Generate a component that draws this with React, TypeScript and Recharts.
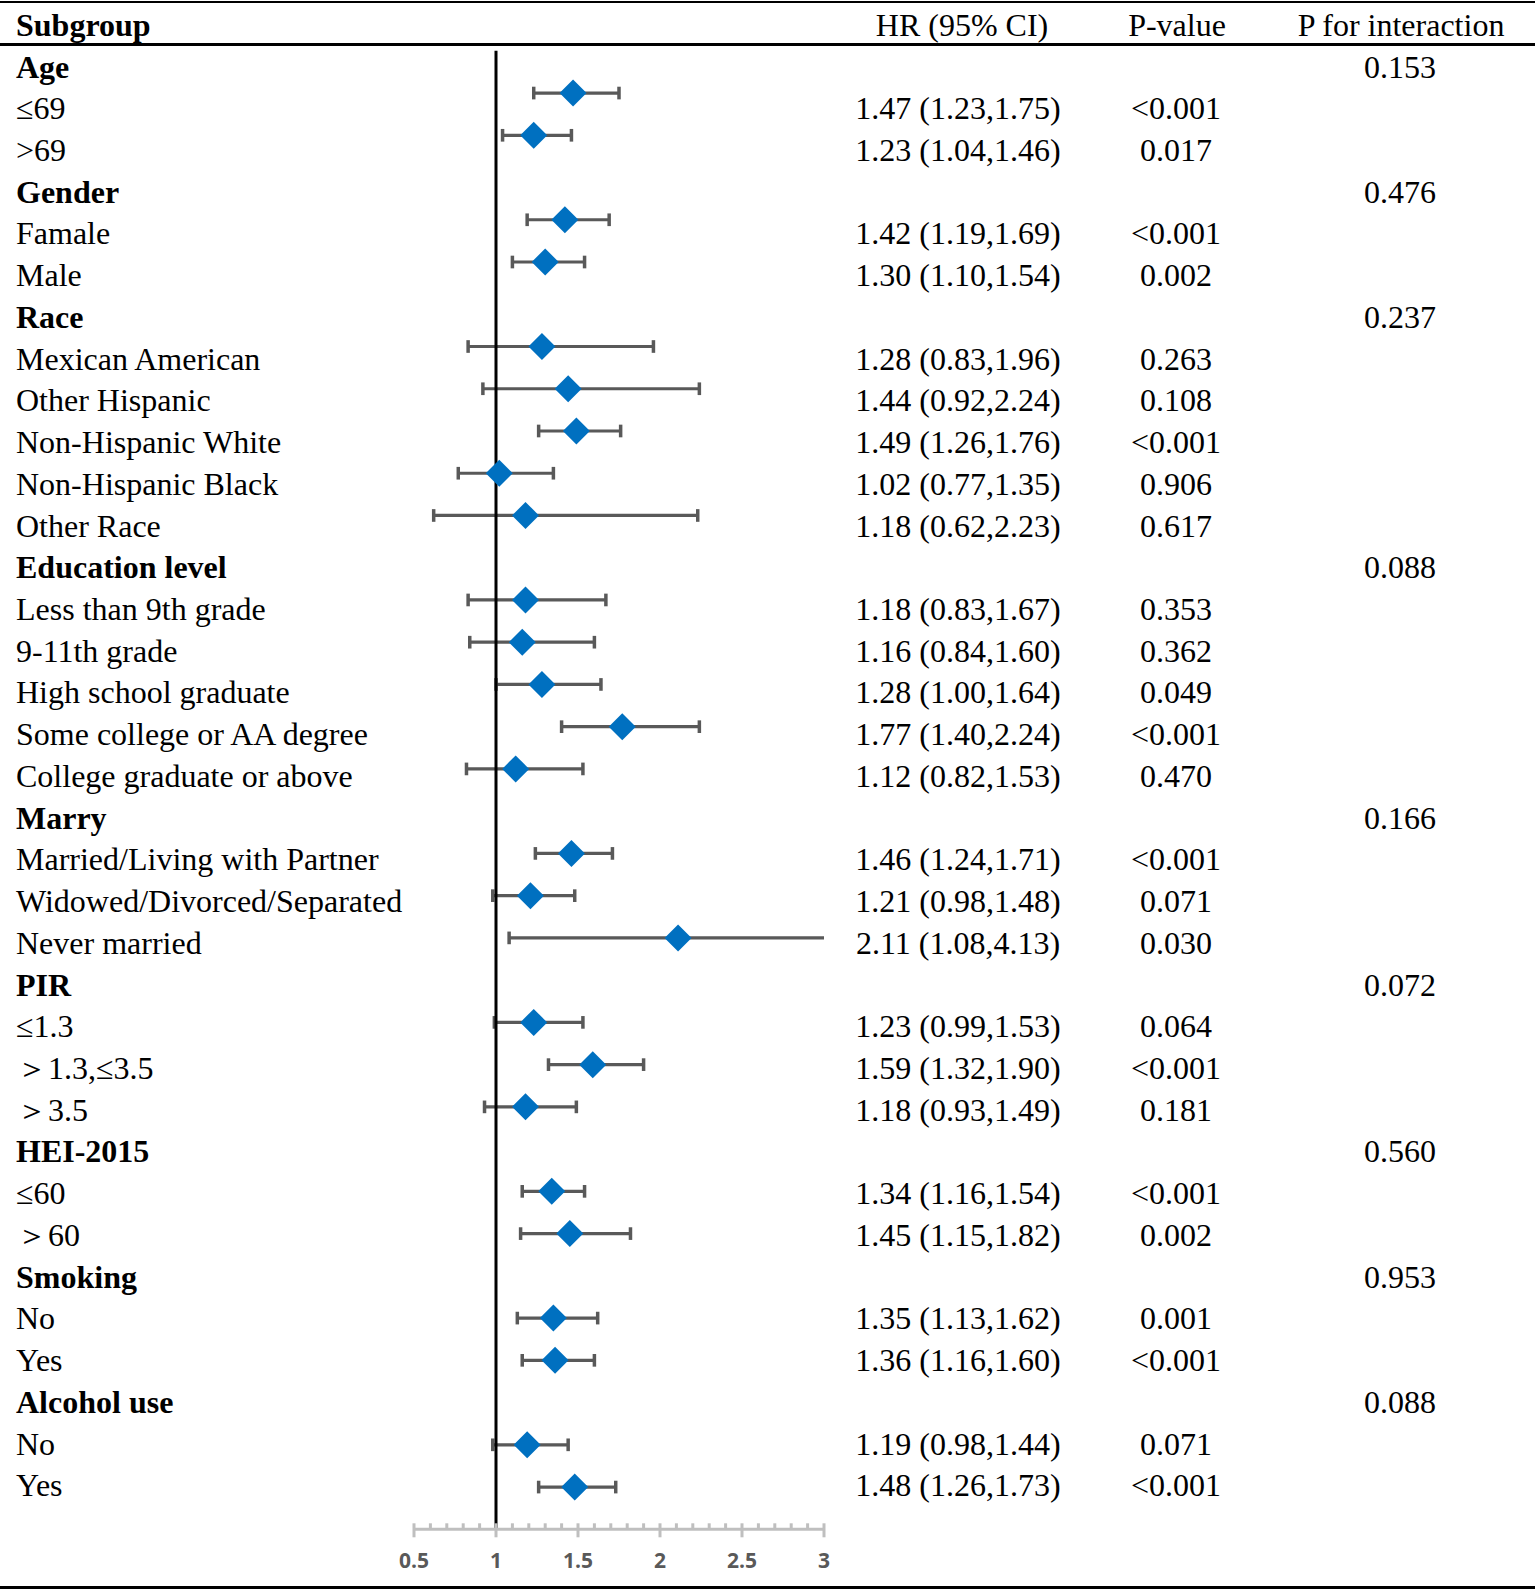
import { ScatterChart, Scatter, XAxis, YAxis, ReferenceLine } from "recharts";

const labels = [
  "Age", "≤69", ">69",
  "Gender", "Famale", "Male",
  "Race", "Mexican American", "Other Hispanic", "Non-Hispanic White", "Non-Hispanic Black", "Other Race",
  "Education level", "Less than 9th grade", "9-11th grade", "High school graduate", "Some college or AA degree", "College graduate or above",
  "Marry", "Married/Living with Partner", "Widowed/Divorced/Separated", "Never married",
  "PIR", "≤1.3", "＞1.3,≤3.5", "＞3.5",
  "HEI-2015", "≤60", "＞60",
  "Smoking", "No", "Yes",
  "Alcohol use", "No", "Yes",
];

const hrValues = [
  null, 1.47, 1.23,
  null, 1.42, 1.30,
  null, 1.28, 1.44, 1.49, 1.02, 1.18,
  null, 1.18, 1.16, 1.28, 1.77, 1.12,
  null, 1.46, 1.21, 2.11,
  null, 1.23, 1.59, 1.18,
  null, 1.34, 1.45,
  null, 1.35, 1.36,
  null, 1.19, 1.48,
];

const lowerCI = [
  null, 1.23, 1.04,
  null, 1.19, 1.10,
  null, 0.83, 0.92, 1.26, 0.77, 0.62,
  null, 0.83, 0.84, 1.00, 1.40, 0.82,
  null, 1.24, 0.98, 1.08,
  null, 0.99, 1.32, 0.93,
  null, 1.16, 1.15,
  null, 1.13, 1.16,
  null, 0.98, 1.26,
];

const upperCI = [
  null, 1.75, 1.46,
  null, 1.69, 1.54,
  null, 1.96, 2.24, 1.76, 1.35, 2.23,
  null, 1.67, 1.60, 1.64, 2.24, 1.53,
  null, 1.71, 1.48, 4.13,
  null, 1.53, 1.90, 1.49,
  null, 1.54, 1.82,
  null, 1.62, 1.60,
  null, 1.44, 1.73,
];

const pValues = [
  "", "<0.001", "0.017",
  "", "<0.001", "0.002",
  "", "0.263", "0.108", "<0.001", "0.906", "0.617",
  "", "0.353", "0.362", "0.049", "<0.001", "0.470",
  "", "<0.001", "0.071", "0.030",
  "", "0.064", "<0.001", "0.181",
  "", "<0.001", "0.002",
  "", "0.001", "<0.001",
  "", "0.071", "<0.001",
];

const pInteraction = [
  "0.153", "", "",
  "0.476", "", "",
  "0.237", "", "", "", "", "",
  "0.088", "", "", "", "", "",
  "0.166", "", "", "",
  "0.072", "", "", "",
  "0.560", "", "",
  "0.953", "", "",
  "0.088", "", "",
];

const majorTicks = [0.5, 1, 1.5, 2, 2.5, 3];
const axisTicks = [
  0.5, 0.6, 0.7, 0.8, 0.9, 1, 1.1, 1.2, 1.3, 1.4, 1.5, 1.6, 1.7, 1.8, 1.9,
  2, 2.1, 2.2, 2.3, 2.4, 2.5, 2.6, 2.7, 2.8, 2.9, 3,
];
const X_MIN = 0.5;
const X_MAX = 3;

type Point = { row: number; hr: number; lo: number; hi: number };

const points: Point[] = [];
labels.forEach((_, i) => {
  const hr = hrValues[i];
  if (hr == null) return;
  points.push({ row: i, hr, lo: lowerCI[i] as number, hi: upperCI[i] as number });
});

const fmt = (v: number | null) => (v == null ? "" : v.toFixed(2));

// table text rows sit on their own grid, slightly tighter than the plot rows
const TEXT_TOP = 66.5;
const TEXT_STEP = 41.73;
const CAP = 0.15; // half cap height, in row units
const WHISKER = "#595959";

function Diamond(props: any) {
  const { cx, cy } = props;
  const r = 13.5;
  return (
    <polygon
      points={`${cx},${cy - r} ${cx + r},${cy} ${cx},${cy + r} ${cx - r},${cy}`}
      fill="#0070C0"
    />
  );
}

function AxisTick(props: any) {
  const { x, y, payload } = props;
  const major = majorTicks.some((t) => Math.abs(t - payload.value) < 1e-6);
  return (
    <g>
      <line x1={x} x2={x} y1={y - 6} y2={major ? y + 8 : y} stroke="#BFBFBF" strokeWidth={3} />
      {major && (
        <text
          x={x}
          y={y + 31}
          textAnchor="middle"
          dominantBaseline="central"
          fill="#595959"
          fontFamily="'Open Sans', sans-serif"
          fontWeight={700}
          fontSize={21}
        >
          {payload.value}
        </text>
      )}
    </g>
  );
}

function Cell({ top, left, width, align, bold, children }: any) {
  return (
    <div
      style={{
        position: "absolute",
        top,
        left,
        width,
        height: 42,
        lineHeight: "42px",
        textAlign: align,
        fontWeight: bold ? 700 : 400,
        whiteSpace: "nowrap",
      }}
    >
      {children}
    </div>
  );
}

export default function App() {
  const whiskers = points.flatMap((p) => {
    const hiDraw = Math.min(p.hi, X_MAX);
    const loDraw = Math.max(p.lo, X_MIN);
    const parts = [
      <ReferenceLine
        key={`w${p.row}`}
        segment={[{ x: loDraw, y: p.row }, { x: hiDraw, y: p.row }]}
        stroke={WHISKER}
        strokeWidth={3.2}
        ifOverflow="visible"
      />,
    ];
    if (p.lo >= X_MIN) {
      parts.push(
        <ReferenceLine
          key={`l${p.row}`}
          segment={[{ x: p.lo, y: p.row - CAP }, { x: p.lo, y: p.row + CAP }]}
          stroke={WHISKER}
          strokeWidth={3.5}
          ifOverflow="visible"
        />
      );
    }
    if (p.hi <= X_MAX) {
      parts.push(
        <ReferenceLine
          key={`h${p.row}`}
          segment={[{ x: p.hi, y: p.row - CAP }, { x: p.hi, y: p.row + CAP }]}
          stroke={WHISKER}
          strokeWidth={3.5}
          ifOverflow="visible"
        />
      );
    }
    return parts;
  });

  return (
    <div
      style={{
        position: "absolute",
        left: 0,
        top: 0,
        width: 1535,
        height: 1589,
        background: "#fff",
        fontFamily: "'Liberation Serif', 'Times New Roman', serif",
        fontSize: 32,
        color: "#000",
        overflow: "hidden",
      }}
    >
      <div style={{ position: "absolute", left: 0, top: 0 }}>
        <ScatterChart
          width={1535}
          height={1589}
          margin={{ top: 50.8, right: 711, bottom: 9.7, left: 414 }}
        >
          <XAxis
            type="number"
            dataKey="hr"
            domain={[X_MIN, X_MAX]}
            ticks={axisTicks}
            interval={0}
            allowDataOverflow
            height={50}
            tickLine={false}
            tickSize={0}
            tickMargin={0}
            axisLine={{ stroke: "#BFBFBF", strokeWidth: 3 }}
            tick={<AxisTick />}
          />
          <YAxis type="number" dataKey="row" domain={[0, 35]} reversed hide allowDataOverflow />
          {whiskers}
          <ReferenceLine x={1} stroke="#000" strokeWidth={3} />
          <Scatter data={points} shape={<Diamond />} isAnimationActive={false} />
        </ScatterChart>
      </div>

      <div style={{ position: "absolute", left: 0, top: 0.5, width: 1535, height: 2.5, background: "#000" }} />
      <div style={{ position: "absolute", left: 0, top: 42.5, width: 1535, height: 3, background: "#000" }} />
      <div style={{ position: "absolute", left: 0, top: 1585.5, width: 1535, height: 3, background: "#000" }} />

      <Cell top={25 - 21} left={16} bold>Subgroup</Cell>
      <Cell top={25 - 21} left={962 - 150} width={300} align="center">HR (95% CI)</Cell>
      <Cell top={25 - 21} left={1177 - 150} width={300} align="center">P-value</Cell>
      <Cell top={25 - 21} left={1401 - 150} width={300} align="center">P for interaction</Cell>

      {labels.map((label, i) => {
        const top = TEXT_TOP + i * TEXT_STEP - 21;
        const isGroup = hrValues[i] == null;
        return (
          <div key={i}>
            <Cell top={top} left={16} bold={isGroup}>{label}</Cell>
            {!isGroup && (
              <Cell top={top} left={958 - 150} width={300} align="center">
                {`${fmt(hrValues[i])} (${fmt(lowerCI[i])},${fmt(upperCI[i])})`}
              </Cell>
            )}
            {pValues[i] && (
              <Cell top={top} left={1176 - 150} width={300} align="center">{pValues[i]}</Cell>
            )}
            {pInteraction[i] && (
              <Cell top={top} left={1400 - 150} width={300} align="center">{pInteraction[i]}</Cell>
            )}
          </div>
        );
      })}
    </div>
  );
}
